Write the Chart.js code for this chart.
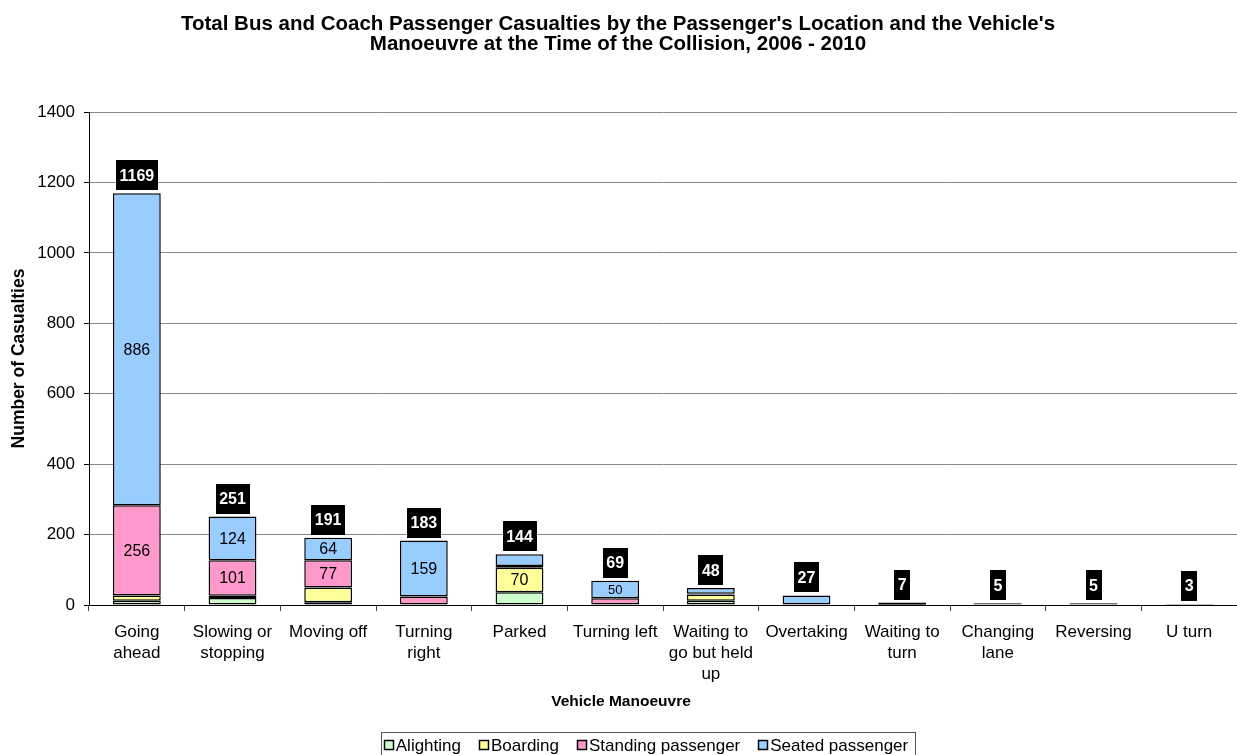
<!DOCTYPE html>
<html lang="en">

<head>
    <meta charset="UTF-8">
    <title>Bus and Coach Passenger Casualties</title>
    <script src="https://cdn.jsdelivr.net/npm/chart.js"></script>
    <style>
        html, body { margin: 0; padding: 0; background: #fff; }
        #wrap { width: 1237px; height: 755px; }
    </style>
</head>

<body>

    <div id="wrap">
        <canvas id="chartCasualties" width="1237" height="755"></canvas>
    </div>

    <script>
        const manoeuvres = [
            ['Going', 'ahead'], ['Slowing or', 'stopping'], 'Moving off', ['Turning', 'right'], 'Parked',
            'Turning left', ['Waiting to', 'go but held', 'up'], 'Overtaking', ['Waiting to', 'turn'],
            ['Changing', 'lane'], 'Reversing', 'U turn'
        ];
        const alighting = [12, 20, 8, 0, 36, 0, 12, 0, 0, 0, 0, 0];
        const boarding = [15, 6, 42, 0, 70, 0, 18, 0, 0, 0, 0, 0];
        const standing = [256, 101, 77, 24, 5, 19, 2, 0, 1, 0, 0, 0];
        const seated = [886, 124, 64, 159, 33, 50, 16, 27, 6, 5, 5, 3];
        const yTicks = [0, 200, 400, 600, 800, 1000, 1200, 1400];

        const titleLines = [
            "Total Bus and Coach Passenger Casualties by the Passenger's Location and the Vehicle's",
            "Manoeuvre at the Time of the Collision, 2006 - 2010"
        ];

        const FONT = 'Arial, "Liberation Sans", sans-serif';

        // column totals for the black boxes above each bar
        const totals = manoeuvres.map((_, i) => alighting[i] + boarding[i] + standing[i] + seated[i]);

        const labelsPlugin = {
            id: 'labels',
            afterDatasetsDraw(chart) {
                const ctx = chart.ctx;
                ctx.save();
                ctx.textAlign = 'center';
                ctx.textBaseline = 'middle';
                // values inside the segments
                chart.data.datasets.forEach((ds, di) => {
                    const meta = chart.getDatasetMeta(di);
                    meta.data.forEach((bar, i) => {
                        const v = ds.data[i];
                        if (v < 50) return;
                        ctx.font = (v < 60 ? '13px ' : '16px ') + FONT;
                        ctx.fillStyle = '#000';
                        ctx.fillText(String(v), bar.x, (bar.y + bar.base) / 2 + 1);
                    });
                });
                // totals
                const y = chart.scales.y;
                const x = chart.scales.x;
                ctx.font = 'bold 16px ' + FONT;
                totals.forEach((t, i) => {
                    const cx = x.getPixelForValue(i);
                    const top = y.getPixelForValue(t);
                    const txt = String(t);
                    const w = ctx.measureText(txt).width + 7;
                    const h = 30;
                    const bottom = top - 3;
                    ctx.fillStyle = '#000';
                    ctx.fillRect(Math.round(cx - w / 2), Math.round(bottom - h), Math.round(w), h);
                    ctx.fillStyle = '#fff';
                    ctx.fillText(txt, cx, bottom - h / 2 + 1);
                });
                ctx.restore();
            }
        };

        const decorPlugin = {
            id: 'decor',
            afterDraw(chart) {
                const ctx = chart.ctx;
                ctx.save();
                ctx.fillStyle = '#000';
                ctx.textAlign = 'center';
                ctx.textBaseline = 'middle';
                ctx.font = 'bold 20.5px ' + FONT;
                ctx.fillText(titleLines[0], 618, 24);
                ctx.fillText(titleLines[1], 618, 44);

                ctx.font = 'bold 15.5px ' + FONT;
                ctx.fillText('Vehicle Manoeuvre', 621, 702);

                // legend
                ctx.font = '17px ' + FONT;
                ctx.textAlign = 'left';
                const items = chart.data.datasets.map(ds => ({
                    label: ds.label, color: ds.backgroundColor, w: ctx.measureText(ds.label).width
                }));
                const box = 10, gap = 2, space = 18;
                const total = items.reduce((s, it) => s + box + gap + it.w, 0) + space * (items.length - 1);
                let px = 646 - total / 2;
                const ly = 745;
                ctx.strokeStyle = '#555';
                ctx.lineWidth = 1;
                ctx.strokeRect(Math.round(px - 3) + 0.5, 732.5, Math.round(total + 10), 40);
                items.forEach(it => {
                    ctx.fillStyle = it.color;
                    ctx.fillRect(Math.round(px), ly - 5, box, box);
                    ctx.strokeStyle = '#000';
                    ctx.lineWidth = 1.5;
                    ctx.strokeRect(Math.round(px) + 0.5, ly - 5 + 0.5, box - 1, box - 1);
                    ctx.fillStyle = '#000';
                    ctx.fillText(it.label, px + box + gap, ly + 1);
                    px += box + gap + it.w + space;
                });
                ctx.restore();
            }
        };

        const segment = (label, data, color) => ({
            label: label,
            data: data,
            backgroundColor: color,
            borderColor: '#000',
            borderWidth: 1.5,
            borderSkipped: false,
            categoryPercentage: 1,
            barPercentage: 0.5
        });

        new Chart(document.getElementById('chartCasualties').getContext('2d'), {
            type: 'bar',
            data: {
                labels: manoeuvres,
                datasets: [
                    segment('Alighting', alighting, '#CCFFCC'),
                    segment('Boarding', boarding, '#FFFF99'),
                    segment('Standing passenger', standing, '#FF99CC'),
                    segment('Seated passenger', seated, '#99CCFF')
                ]
            },
            options: {
                responsive: false,
                animation: false,
                layout: { padding: { top: 112, left: 0, right: 0, bottom: 0 } },
                plugins: {
                    legend: { display: false },
                    title: { display: false },
                    tooltip: { enabled: false }
                },
                scales: {
                    x: {
                        stacked: true,
                        afterFit: s => { s.height = 150; },
                        grid: { drawOnChartArea: false, offset: true, tickLength: 6, color: '#444' },
                        border: { color: '#000' },
                        ticks: {
                            color: '#000',
                            font: { family: FONT, size: 17, lineHeight: 1.24 },
                            padding: 11,
                            maxRotation: 0,
                            autoSkip: false
                        }
                    },
                    y: {
                        stacked: true,
                        min: 0,
                        max: 1400,
                        afterFit: s => { s.width = 89; },
                        afterBuildTicks: s => { s.ticks = yTicks.map(v => ({ value: v })); },
                        grid: { color: '#888', tickColor: '#000', tickLength: 5 },
                        border: { color: '#000' },
                        ticks: {
                            color: '#000',
                            font: { family: FONT, size: 17 },
                            padding: 9,
                            callback: v => String(v)
                        },
                        title: {
                            display: true,
                            text: 'Number of Casualties',
                            color: '#000',
                            font: { family: FONT, size: 17.5, weight: 'bold' },
                            padding: { top: 9, bottom: 0 }
                        }
                    }
                }
            },
            plugins: [labelsPlugin, decorPlugin]
        });
    </script>

</body>

</html>
